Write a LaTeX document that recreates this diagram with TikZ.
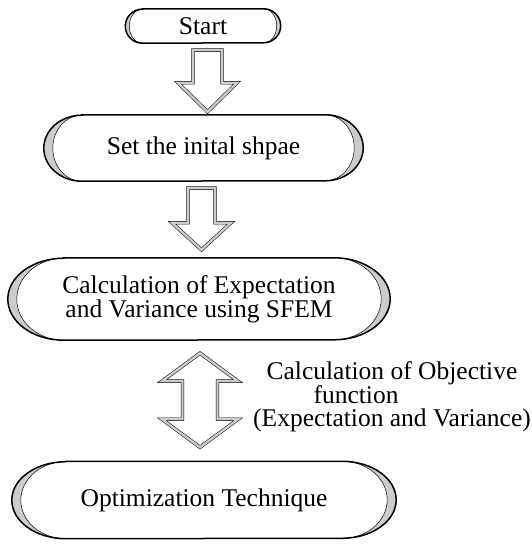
\documentclass[tikz,border=0pt]{standalone}
\usepackage{fontspec}
\setmainfont{Liberation Serif}
\usepackage{tikz}
\usetikzlibrary{calc, backgrounds}

% capsule outline round a node: node, x radius, y radius, inner x radius
\newcommand{\capsulebox}[4]{%
  \fill[gray!40] ($(#1.north west)+(#2,0)$) -- ($(#1.north east)+(-#2,0)$)
    arc[start angle=90, end angle=-90, x radius=#2pt, y radius=#3pt]
    -- ($(#1.south west)+(#2,0)$)
    arc[start angle=270, end angle=90, x radius=#2pt, y radius=#3pt] -- cycle;
  \fill[white] ($(#1.north west)+(#2,0)$) -- ($(#1.north east)+(-#2,0)$)
    arc[start angle=90, end angle=-90, x radius=#4pt, y radius=#3pt]
    -- ($(#1.south west)+(#2,0)$)
    arc[start angle=270, end angle=90, x radius=#4pt, y radius=#3pt] -- cycle;
  \draw[line width=0.5pt] ($(#1.north east)+(-#2,0)$)
    arc[start angle=90, end angle=-90, x radius=#4pt, y radius=#3pt];
  \draw[line width=0.5pt] ($(#1.south west)+(#2,0)$)
    arc[start angle=270, end angle=90, x radius=#4pt, y radius=#3pt];
  \draw[rim] ($(#1.north west)+(#2,0)$) -- ($(#1.north east)+(-#2,0)$)
    arc[start angle=90, end angle=-90, x radius=#2pt, y radius=#3pt]
    -- ($(#1.south west)+(#2,0)$)
    arc[start angle=270, end angle=90, x radius=#2pt, y radius=#3pt] -- cycle;
}

\begin{document}
\begin{tikzpicture}[
    x=1pt, y=1pt,
    font=\fontsize{25.5}{22}\selectfont,
    stage/.style={inner sep=0pt, align=center},
    hollow/.style={draw=black, line width=0.5pt, double=gray!40,
        double distance=2.4pt, fill=white, line join=miter},
    rim/.style={draw=black, line width=1.5pt},
]
\useasboundingbox (0,0) rectangle (532,544);
\node[stage, minimum width=155, minimum height=34] (start) at (203,518)   {Start};
\node[stage, minimum width=319, minimum height=66] (init)  at (203.5,396) {Set the inital shpae};
\node[stage, minimum width=382, minimum height=82] (sfem)  at (199,245)   {Calculation of Expectation\\and Variance using SFEM};
\node[stage, minimum width=384, minimum height=77] (opt)   at (204,44)    {Optimization Technique};
\node[stage, font=\fontsize{25.5}{23.5}\selectfont] (objlabel) at (392,147)
    {Calculation of Objective\\function\hspace{72pt}\null\\(Expectation and Variance)};
%% Outlines
\begin{scope}[on background layer]
\capsulebox{start}{17}{17}{13}
\capsulebox{init}{38}{33}{29}
\capsulebox{sfem}{56}{41}{47}
\capsulebox{opt}{54}{38.5}{45}
\end{scope}
%% Arrows
\draw[hollow] let \p1=($(start.south)+(4.5,-7)$), \p2=($(init.north)+(0,3)$) in
    (\x1-14.5,\y1) -- (\x1+14.5,\y1) -- (\x1+14.5,\y2+29) -- (\x1+29.5,\y2+29)
    -- (\x1,\y2) -- (\x1-29.5,\y2+29) -- (\x1-14.5,\y2+29) -- cycle;
\draw[hollow] let \p1=($(init.south)+(-2,-7)$), \p2=($(sfem.north)+(0,8)$) in
    (\x1-13.5,\y1) -- (\x1+13.5,\y1) -- (\x1+13.5,\y2+27) -- (\x1+29.5,\y2+27)
    -- (\x1,\y2) -- (\x1-29.5,\y2+27) -- (\x1-13.5,\y2+27) -- cycle;
\draw[hollow] let \p1=($(sfem.south)+(1,-13)$), \p2=($(opt.north)+(0,14)$) in
    (\x1,\y1) -- (\x1+38,\y1-28) -- (\x1+17.5,\y1-28) -- (\x1+17.5,\y2+28)
    -- (\x1+38,\y2+28) -- (\x1,\y2) -- (\x1-38,\y2+28) -- (\x1-17.5,\y2+28)
    -- (\x1-17.5,\y1-28) -- (\x1-38,\y1-28) -- cycle;
\end{tikzpicture}
\end{document}
